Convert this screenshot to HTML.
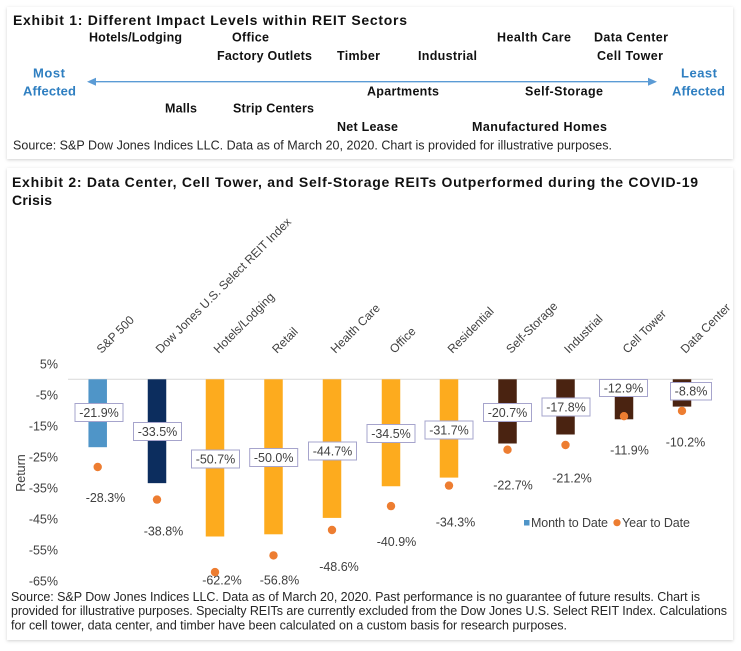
<!DOCTYPE html>
<html><head><meta charset="utf-8">
<style>
html,body{margin:0;padding:0;background:#fff;}
svg{display:block;}
text{font-family:"Liberation Sans",Arial,sans-serif;}
.b{font-weight:bold;fill:#111;font-size:12.5px;}
.t{font-weight:bold;fill:#111;font-size:14px;}
.r{fill:#404040;font-size:12.5px;}
.c{fill:#404040;font-size:12px;}
.s{fill:#262626;font-size:12.5px;}
.bl{font-weight:bold;fill:#2f7fc1;font-size:13px;}
</style></head>
<body>
<svg width="741" height="651" viewBox="0 0 741 651" xmlns="http://www.w3.org/2000/svg">
<defs>
<filter id="sh" x="-5%" y="-5%" width="110%" height="115%">
<feDropShadow dx="0" dy="1" stdDeviation="1.5" flood-color="#000" flood-opacity="0.18"/>
</filter>
</defs>
<rect x="0" y="0" width="741" height="651" fill="#fff"/>
<!-- Panel 1 -->
<rect x="7" y="7" width="726" height="152" fill="#fff" filter="url(#sh)"/>
<text class="t" x="13" y="25" textLength="394">Exhibit 1: Different Impact Levels within REIT Sectors</text>
<text class="b" x="89" y="41.5" textLength="93">Hotels/Lodging</text>
<text class="b" x="232" y="41.5" textLength="37">Office</text>
<text class="b" x="497" y="41.5" textLength="74">Health Care</text>
<text class="b" x="594" y="41.5" textLength="74">Data Center</text>
<text class="b" x="217" y="60" textLength="95">Factory Outlets</text>
<text class="b" x="337" y="60" textLength="43">Timber</text>
<text class="b" x="418" y="60" textLength="59">Industrial</text>
<text class="b" x="597" y="60" textLength="66">Cell Tower</text>
<text class="bl" x="33" y="77.5" textLength="32">Most</text>
<text class="bl" x="23" y="95.5" textLength="53">Affected</text>
<text class="bl" x="681" y="77.5" textLength="36">Least</text>
<text class="bl" x="672" y="95.5" textLength="53">Affected</text>
<line x1="94" y1="81.7" x2="650" y2="81.7" stroke="#5b9bd5" stroke-width="1.3"/>
<polygon points="87,81.7 96,77.7 96,85.7" fill="#5b9bd5"/>
<polygon points="657,81.7 648,77.7 648,85.7" fill="#5b9bd5"/>
<text class="b" x="367" y="95.5" textLength="72">Apartments</text>
<text class="b" x="525" y="95.5" textLength="78">Self-Storage</text>
<text class="b" x="165" y="112.5" textLength="32">Malls</text>
<text class="b" x="233" y="112.5" textLength="81">Strip Centers</text>
<text class="b" x="337" y="131" textLength="61">Net Lease</text>
<text class="b" x="472" y="131" textLength="135">Manufactured Homes</text>
<text class="s" x="13" y="149.5" textLength="599">Source: S&amp;P Dow Jones Indices LLC. Data as of March 20, 2020. Chart is provided for illustrative purposes.</text>

<!-- Panel 2 -->
<rect x="7" y="168" width="726" height="472" fill="#fff" filter="url(#sh)"/>
<text class="t" x="12" y="187" textLength="686">Exhibit 2: Data Center, Cell Tower, and Self-Storage REITs Outperformed during the COVID-19</text>
<text class="t" x="12" y="205" textLength="40">Crisis</text>

<!-- y axis labels -->
<g class="r" text-anchor="end">
<text x="58" y="368.3">5%</text>
<text x="58" y="399.3">-5%</text>
<text x="58" y="430.3">-15%</text>
<text x="58" y="461.3">-25%</text>
<text x="58" y="492.3">-35%</text>
<text x="58" y="523.3">-45%</text>
<text x="58" y="554.3">-55%</text>
<text x="58" y="585.3">-65%</text>
</g>
<text class="r" x="0" y="0" text-anchor="middle" transform="translate(25,473) rotate(-90)">Return</text>

<!-- zero line -->
<line x1="68" y1="379.3" x2="713" y2="379.3" stroke="#d9d9d9" stroke-width="1"/>

<!-- category labels -->
<g class="c">
<text transform="translate(101.5,354) rotate(-45)">S&amp;P 500</text>
<text transform="translate(160.5,354) rotate(-45)">Dow Jones U.S. Select REIT Index</text>
<text transform="translate(218.5,354) rotate(-45)">Hotels/Lodging</text>
<text transform="translate(277,354) rotate(-45)">Retail</text>
<text transform="translate(335.5,354) rotate(-45)">Health Care</text>
<text transform="translate(394.5,354) rotate(-45)">Office</text>
<text transform="translate(452.5,354) rotate(-45)">Residential</text>
<text transform="translate(511,354) rotate(-45)">Self-Storage</text>
<text transform="translate(569,354) rotate(-45)">Industrial</text>
<text transform="translate(627.5,354) rotate(-45)">Cell Tower</text>
<text transform="translate(685.5,354) rotate(-45)">Data Center</text>
</g>

<!-- bars -->
<rect x="88.45" y="379.3" width="18.5" height="67.9" fill="#4f95c8"/>
<rect x="147.75" y="379.3" width="18.5" height="103.85" fill="#0c2d5e"/>
<rect x="205.75" y="379.3" width="18.5" height="157.2" fill="#fdab1e"/>
<rect x="264.25" y="379.3" width="18.5" height="155" fill="#fdab1e"/>
<rect x="322.75" y="379.3" width="18.5" height="138.6" fill="#fdab1e"/>
<rect x="381.75" y="379.3" width="18.5" height="106.95" fill="#fdab1e"/>
<rect x="439.75" y="379.3" width="18.5" height="98.3" fill="#fdab1e"/>
<rect x="498.25" y="379.3" width="18.5" height="64.2" fill="#4a2311"/>
<rect x="556.25" y="379.3" width="18.5" height="55.2" fill="#4a2311"/>
<rect x="614.75" y="379.3" width="18.5" height="40" fill="#4a2311"/>
<rect x="672.75" y="379.3" width="18.5" height="27.3" fill="#4a2311"/>

<!-- MTD label boxes -->
<g fill="#fff" stroke="#a6a4cc" stroke-width="1">
<rect x="75" y="403.5" width="48" height="18"/>
<rect x="133.5" y="422.5" width="48" height="18"/>
<rect x="191.5" y="450" width="48" height="18"/>
<rect x="249.7" y="448.5" width="48" height="18"/>
<rect x="308.5" y="442" width="48" height="18"/>
<rect x="367" y="424.5" width="48" height="18"/>
<rect x="425" y="421" width="48" height="18"/>
<rect x="483.5" y="403.5" width="48" height="18"/>
<rect x="542" y="398" width="48" height="18"/>
<rect x="599.5" y="379.5" width="48" height="17"/>
<rect x="670.5" y="382.5" width="41" height="17.5"/>
</g>
<g class="r" text-anchor="middle">
<text x="99" y="417">-21.9%</text>
<text x="157.5" y="436">-33.5%</text>
<text x="215.5" y="463.5">-50.7%</text>
<text x="273.7" y="462">-50.0%</text>
<text x="332.5" y="455.5">-44.7%</text>
<text x="391" y="438">-34.5%</text>
<text x="449" y="434.5">-31.7%</text>
<text x="507.5" y="417">-20.7%</text>
<text x="566" y="411.5">-17.8%</text>
<text x="623.5" y="392.5">-12.9%</text>
<text x="691" y="395.5">-8.8%</text>
</g>

<!-- YTD labels -->
<g class="r" text-anchor="middle">
<text x="105.5" y="502.2">-28.3%</text>
<text x="163.5" y="535.5">-38.8%</text>
<text x="222" y="584.5">-62.2%</text>
<text x="279.5" y="584.5">-56.8%</text>
<text x="339" y="571.2">-48.6%</text>
<text x="396.5" y="546.2">-40.9%</text>
<text x="455.5" y="526.5">-34.3%</text>
<text x="513" y="489.5">-22.7%</text>
<text x="572" y="482.5">-21.2%</text>
<text x="629.5" y="454.5">-11.9%</text>
<text x="685.5" y="446.5">-10.2%</text>
</g>

<!-- YTD dots -->
<g fill="#ed7d31">
<circle cx="97.7" cy="467" r="4.2"/>
<circle cx="157" cy="499.6" r="4.2"/>
<circle cx="215" cy="572.1" r="4.2"/>
<circle cx="273.5" cy="555.4" r="4.2"/>
<circle cx="332" cy="530" r="4.2"/>
<circle cx="391" cy="506.1" r="4.2"/>
<circle cx="449" cy="485.6" r="4.2"/>
<circle cx="507.5" cy="449.7" r="4.2"/>
<circle cx="565.5" cy="445" r="4.2"/>
<circle cx="624" cy="416.2" r="4.2"/>
<circle cx="682" cy="410.9" r="4.2"/>
</g>

<!-- legend -->
<rect x="524" y="520" width="5.5" height="5.5" fill="#4f95c8"/>
<text class="r" x="531" y="527.2" textLength="77">Month to Date</text>
<circle cx="617" cy="522.7" r="3.6" fill="#ed7d31"/>
<text class="r" x="622" y="527.2" textLength="68">Year to Date</text>

<!-- source -->
<text class="s" x="11" y="601" textLength="689">Source: S&amp;P Dow Jones Indices LLC. Data as of March 20, 2020. Past performance is no guarantee of future results. Chart is</text>
<text class="s" x="11" y="615" textLength="716">provided for illustrative purposes. Specialty REITs are currently excluded from the Dow Jones U.S. Select REIT Index. Calculations</text>
<text class="s" x="11" y="629.5" textLength="556">for cell tower, data center, and timber have been calculated on a custom basis for research purposes.</text>
</svg>
</body></html>
